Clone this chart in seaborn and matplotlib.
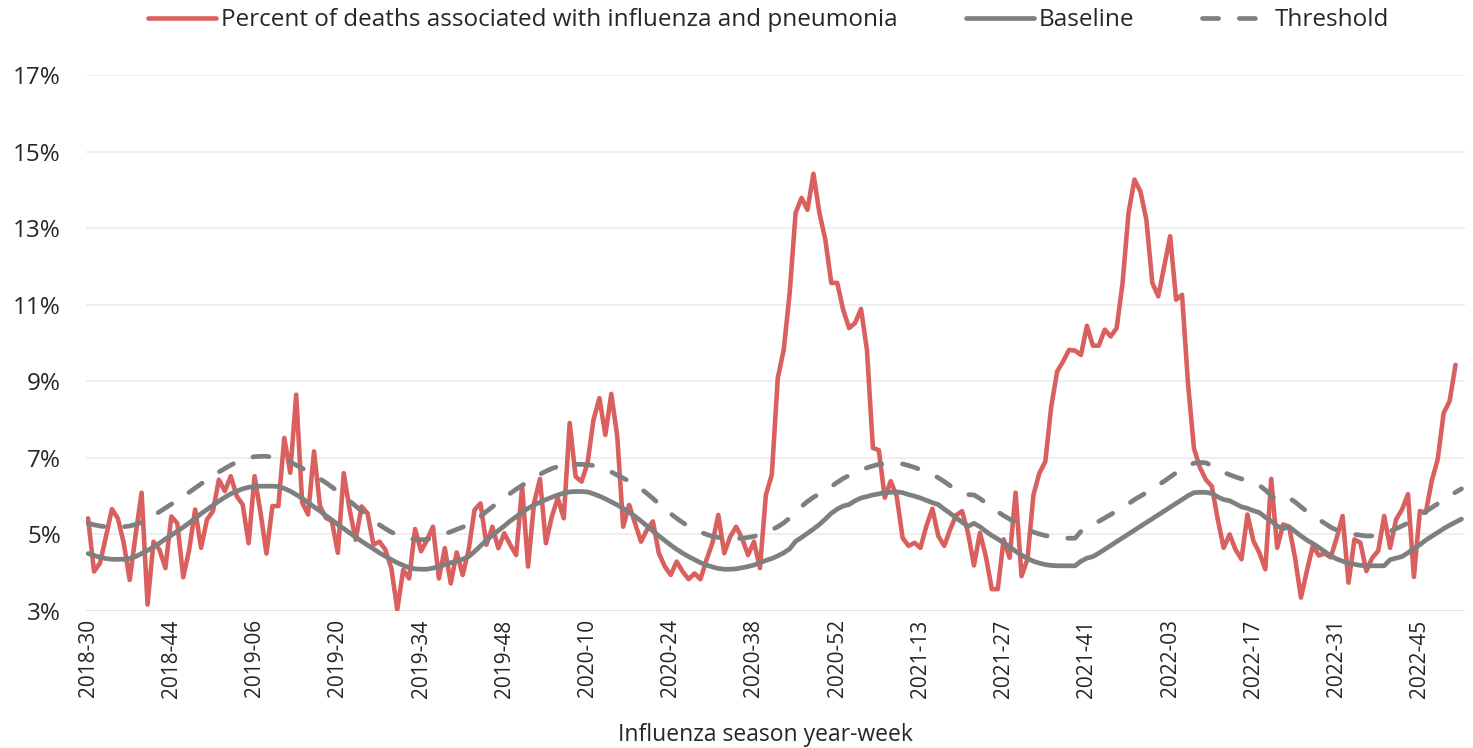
import matplotlib
matplotlib.use("Agg")
import matplotlib.pyplot as plt
import pandas as pd
import seaborn as sns

# weeks per year for the year-week labels
weeks_in_year = {2018: 52, 2019: 52, 2020: 53, 2021: 52, 2022: 52}
start_year, start_week = 2018, 30

# percent of deaths associated with influenza and pneumonia (weekly, 2018-30 onwards)
pi_deaths = [
    5.42, 4.03, 4.25, 4.94, 5.66, 5.42, 4.77, 3.81, 5.00, 6.09,
    3.17, 4.81, 4.60, 4.12, 5.47, 5.29, 3.88, 4.60, 5.65, 4.65,
    5.39, 5.61, 6.43, 6.13, 6.52, 6.00, 5.78, 4.77, 6.52, 5.57,
    4.50, 5.74, 5.74, 7.52, 6.61, 8.65, 5.83, 5.52, 7.17, 5.74,
    5.43, 5.35, 4.52, 6.60, 5.64, 4.86, 5.73, 5.55, 4.73, 4.81,
    4.60, 4.12, 3.04, 4.07, 3.85, 5.14, 4.56, 4.85, 5.20, 3.85,
    4.64, 3.72, 4.53, 3.94, 4.59, 5.64, 5.81, 4.73, 5.20, 4.64,
    5.03, 4.73, 4.46, 6.25, 4.16, 5.81, 6.45, 4.77, 5.47, 5.95,
    5.42, 7.91, 6.51, 6.38, 6.86, 7.99, 8.56, 7.60, 8.67, 7.56,
    5.20, 5.77, 5.29, 4.81, 5.12, 5.34, 4.51, 4.16, 3.94, 4.29,
    4.03, 3.83, 3.98, 3.83, 4.33, 4.77, 5.51, 4.51, 4.94, 5.20,
    4.90, 4.46, 4.81, 4.12, 6.03, 6.56, 9.08, 9.82, 11.30, 13.40,
    13.79, 13.48, 14.42, 13.40, 12.70, 11.57, 11.57, 10.87, 10.39, 10.52,
    10.89, 9.82, 7.26, 7.20, 5.96, 6.39, 6.00, 4.91, 4.70, 4.78,
    4.65, 5.22, 5.67, 4.96, 4.70, 5.13, 5.50, 5.61, 5.04, 4.19,
    5.04, 4.43, 3.57, 3.57, 4.87, 4.39, 6.09, 3.91, 4.35, 6.03,
    6.60, 6.90, 8.34, 9.26, 9.52, 9.82, 9.80, 9.69, 10.45, 9.93,
    9.93, 10.35, 10.17, 10.39, 11.57, 13.40, 14.27, 13.96, 13.22, 11.57,
    11.22, 12.00, 12.79, 11.13, 11.26, 8.95, 7.25, 6.75, 6.43, 6.26,
    5.40, 4.65, 5.00, 4.60, 4.35, 5.52, 4.83, 4.52, 4.09, 6.45,
    4.65, 5.26, 5.20, 4.40, 3.35, 4.05, 4.70, 4.45, 4.50, 4.40,
    4.90, 5.48, 3.74, 4.87, 4.78, 4.04, 4.39, 4.57, 5.48, 4.65,
    5.39, 5.65, 6.05, 3.89, 5.61, 5.57, 6.40, 6.96, 8.17, 8.48,
    9.43,
]

baseline = [
    4.50, 4.45, 4.40, 4.37, 4.35, 4.35, 4.35, 4.37, 4.42, 4.50,
    4.58, 4.67, 4.77, 4.88, 4.98, 5.08, 5.19, 5.30, 5.42, 5.54,
    5.65, 5.76, 5.87, 5.97, 6.06, 6.13, 6.19, 6.23, 6.25, 6.26,
    6.26, 6.26, 6.25, 6.20, 6.13, 6.04, 5.94, 5.83, 5.72, 5.61,
    5.49, 5.38, 5.26, 5.15, 5.04, 4.93, 4.82, 4.72, 4.62, 4.52,
    4.43, 4.34, 4.26, 4.19, 4.13, 4.10, 4.09, 4.09, 4.12, 4.16,
    4.21, 4.26, 4.31, 4.35, 4.42, 4.55, 4.70, 4.85, 4.98, 5.10,
    5.22, 5.35, 5.46, 5.58, 5.68, 5.77, 5.84, 5.91, 5.97, 6.03,
    6.08, 6.11, 6.12, 6.12, 6.11, 6.06, 6.00, 5.93, 5.85, 5.77,
    5.68, 5.58, 5.47, 5.35, 5.22, 5.09, 4.96, 4.84, 4.72, 4.61,
    4.51, 4.42, 4.34, 4.26, 4.20, 4.15, 4.11, 4.09, 4.09, 4.10,
    4.13, 4.16, 4.20, 4.26, 4.32, 4.37, 4.44, 4.52, 4.62, 4.82,
    4.92, 5.03, 5.14, 5.26, 5.40, 5.55, 5.66, 5.74, 5.78, 5.88,
    5.95, 5.99, 6.03, 6.06, 6.09, 6.10, 6.11, 6.09, 6.04, 6.00,
    5.95, 5.89, 5.83, 5.78, 5.66, 5.55, 5.43, 5.32, 5.21, 5.29,
    5.20, 5.08, 4.97, 4.88, 4.78, 4.68, 4.56, 4.46, 4.37, 4.30,
    4.25, 4.21, 4.19, 4.18, 4.18, 4.18, 4.18, 4.30, 4.38, 4.42,
    4.51, 4.61, 4.71, 4.81, 4.91, 5.01, 5.11, 5.21, 5.31, 5.41,
    5.51, 5.61, 5.71, 5.81, 5.91, 6.01, 6.09, 6.10, 6.10, 6.07,
    5.98, 5.91, 5.88, 5.80, 5.72, 5.68, 5.62, 5.57, 5.45, 5.35,
    5.22, 5.15, 5.20, 5.08, 4.96, 4.85, 4.76, 4.66, 4.55, 4.44,
    4.36, 4.30, 4.25, 4.22, 4.19, 4.18, 4.18, 4.18, 4.18, 4.34,
    4.38, 4.42, 4.52, 4.63, 4.73, 4.85, 4.95, 5.05, 5.15, 5.24,
    5.32, 5.40,
]

threshold = [
    5.29, 5.25, 5.22, 5.20, 5.19, 5.19, 5.20, 5.22, 5.26, 5.32,
    5.40, 5.49, 5.59, 5.69, 5.79, 5.89, 5.99, 6.10, 6.21, 6.32,
    6.43, 6.53, 6.63, 6.72, 6.81, 6.89, 6.95, 7.00, 7.03, 7.04,
    7.04, 7.02, 6.99, 6.95, 6.89, 6.81, 6.73, 6.64, 6.55, 6.45,
    6.35, 6.24, 6.12, 6.00, 5.87, 5.74, 5.61, 5.48, 5.36, 5.25,
    5.15, 5.06, 4.99, 4.93, 4.89, 4.87, 4.86, 4.87, 4.90, 4.95,
    5.01, 5.07, 5.13, 5.19, 5.26, 5.36, 5.47, 5.60, 5.72, 5.84,
    5.96, 6.07, 6.18, 6.28, 6.38, 6.48, 6.57, 6.65, 6.72, 6.77,
    6.80, 6.82, 6.83, 6.83, 6.82, 6.80, 6.76, 6.70, 6.63, 6.55,
    6.47, 6.39, 6.30, 6.19, 6.07, 5.94, 5.80, 5.67, 5.54, 5.42,
    5.31, 5.21, 5.13, 5.06, 5.00, 4.95, 4.92, 4.90, 4.89, 4.89,
    4.90, 4.92, 4.95, 4.99, 5.05, 5.12, 5.20, 5.30, 5.43, 5.58,
    5.73, 5.86, 5.97, 6.06, 6.14, 6.25, 6.36, 6.46, 6.54, 6.61,
    6.68, 6.74, 6.79, 6.83, 6.85, 6.85, 6.85, 6.84, 6.80, 6.75,
    6.69, 6.63, 6.56, 6.48, 6.38, 6.27, 6.16, 6.08, 6.04, 6.03,
    5.94, 5.82, 5.69, 5.59, 5.49, 5.40, 5.30, 5.21, 5.13, 5.06,
    5.01, 4.97, 4.94, 4.92, 4.90, 4.90, 4.90, 5.08, 5.17, 5.26,
    5.34, 5.43, 5.52, 5.61, 5.70, 5.80, 5.91, 6.00, 6.09, 6.19,
    6.29, 6.39, 6.50, 6.61, 6.71, 6.80, 6.86, 6.88, 6.87, 6.80,
    6.70, 6.62, 6.56, 6.50, 6.45, 6.41, 6.35, 6.28, 6.16, 6.02,
    5.90, 5.88, 5.95, 5.85, 5.72, 5.60, 5.50, 5.39, 5.29, 5.19,
    5.11, 5.06, 5.03, 5.00, 4.98, 4.96, 4.96, 4.98, 5.03, 5.08,
    5.15, 5.22, 5.30, 5.40, 5.50, 5.60, 5.70, 5.80, 5.90, 6.00,
    6.10, 6.19,
]

y_ticks = [3, 5, 7, 9, 11, 13, 15, 17]

# build year-week category labels
labels = []
y, w = start_year, start_week
for _ in range(len(baseline)):
    labels.append(f"{y}-{w:02d}")
    w += 1
    if w > weeks_in_year[y]:
        y, w = y + 1, 1

df_pi = pd.DataFrame({"pos": range(len(pi_deaths)), "value": pi_deaths})
df_base = pd.DataFrame({"pos": range(len(baseline)), "value": baseline})
df_thr = pd.DataFrame({"pos": range(len(threshold)), "value": threshold})

sns.set_style("white")
plt.rcParams["font.family"] = ["Open Sans", "DejaVu Sans"]

red = "#D9605F"
grey = "#7F7F7F"

fig = plt.figure(figsize=(14.73, 7.48), dpi=100)
ax = fig.add_axes([0.0584, 0.1832, 0.9362, 0.7165])

sns.lineplot(data=df_pi, x="pos", y="value", ax=ax, color=red, linewidth=3.3,
             label="Percent of deaths associated with influenza and pneumonia",
             solid_capstyle="round", solid_joinstyle="round")
sns.lineplot(data=df_base, x="pos", y="value", ax=ax, color=grey, linewidth=3.4,
             label="Baseline", solid_capstyle="round", solid_joinstyle="round")
sns.lineplot(data=df_thr, x="pos", y="value", ax=ax, color=grey, linewidth=3.4,
             linestyle=(0, (3.4, 4.4)), dash_capstyle="round",
             label="Threshold")

ax.set_ylim(3, 17)
ax.set_xlim(-0.35, len(baseline) - 0.4)
ax.set_yticks(y_ticks)
ax.set_yticklabels([f"{v}%" for v in y_ticks], fontsize=17.5)
tick_pos = list(range(0, len(labels), 14))
ax.set_xticks(tick_pos)
ax.set_xticklabels([labels[i] for i in tick_pos], rotation=90, fontsize=15)
ax.tick_params(axis="x", length=0, pad=6)
ax.tick_params(axis="y", length=0, pad=18)

for v in y_ticks[1:]:
    ax.axhline(v, color="#EFEFEF", linewidth=1.5, zorder=0)
ax.axhline(3, color="#D9D9D9", linewidth=1.8, zorder=0)
for s in ax.spines.values():
    s.set_visible(False)

ax.set_xlabel("Influenza season year-week", fontsize=16.5, va="center")
ax.xaxis.set_label_coords(0.493, -0.231)
ax.set_ylabel("")

ax.legend(loc="center", bbox_to_anchor=(0.522, 0.973), bbox_transform=fig.transFigure,
          ncol=3, frameon=False, fontsize=17.5, handlelength=2.8, handletextpad=0.2,
          columnspacing=2.8)

fig.savefig("out.png", dpi=100)
